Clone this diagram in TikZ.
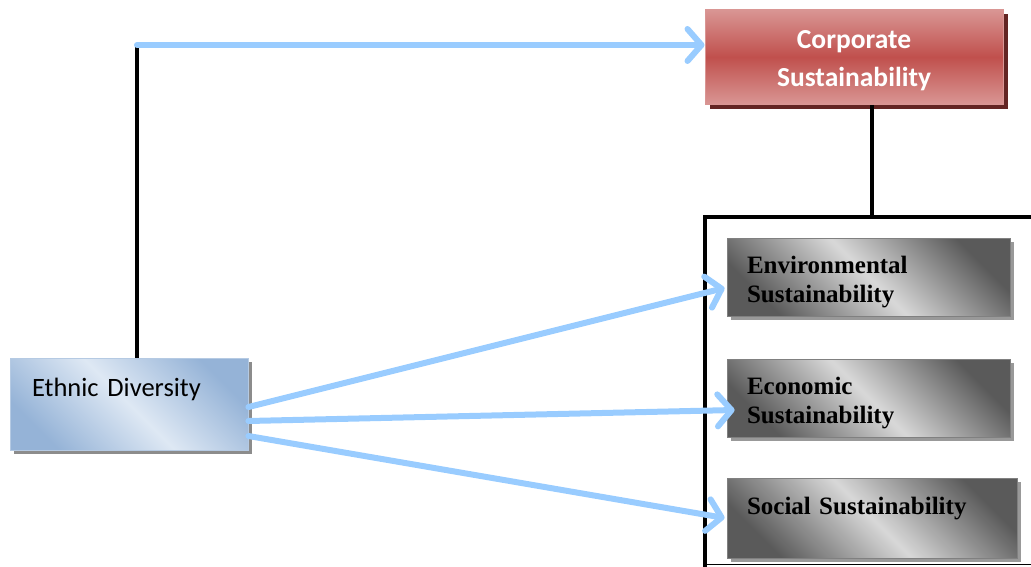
\documentclass[tikz,border=0pt]{standalone}
\usepackage{fontspec}
\setmainfont{Liberation Serif}
\newfontfamily\calfont{Carlito}
\usetikzlibrary{arrows.meta,positioning,calc,shadows}
\definecolor{arrowblue}{RGB}{153,204,255}
\definecolor{redlight}{RGB}{217,150,148}
\definecolor{redmid}{RGB}{192,80,77}
\definecolor{redshadow}{RGB}{99,37,35}
\definecolor{bluelight}{RGB}{222,232,244}
\definecolor{bluedark}{RGB}{149,179,215}
\definecolor{greydark}{RGB}{90,90,90}
\definecolor{greylight}{RGB}{216,216,216}

\begin{document}
\begin{tikzpicture}[x=1pt,y=-1pt,
  redbox/.style={draw=redlight, line width=1pt, top color=redlight, bottom color=redlight, middle color=redmid,
    minimum width=298pt, inner ysep=0pt, text height=77pt, text depth=18pt, align=center, text=white,
    font=\calfont\bfseries\fontsize{27.5}{38}\selectfont,
    drop shadow={shadow xshift=5pt, shadow yshift=-5pt, fill=redshadow, opacity=1}},
  greybox/.style={draw=gray, line width=0.8pt, top color=greydark, bottom color=greydark, middle color=greylight,
    shading angle=-45, text width=243pt, inner xsep=20pt, inner ysep=0pt, text height=35pt, text depth=43pt, align=left,
    font=\bfseries\fontsize{25}{29}\selectfont,
    drop shadow={shadow xshift=4pt, shadow yshift=-4pt, fill=gray!80, opacity=1}},
  bluebox/.style={draw=bluedark!70, line width=0.8pt, top color=bluedark, bottom color=bluedark, middle color=bluelight,
    shading angle=-45, text width=194pt, inner xsep=22pt, inner ysep=0pt, text height=38pt, text depth=54pt, align=left,
    font=\calfont\fontsize{26.5}{29}\selectfont,
    drop shadow={shadow xshift=4pt, shadow yshift=-4pt, fill=gray!90, opacity=1}},
  blackline/.style={line width=4pt},
  bluearrow/.style={arrowblue, line width=6pt, line cap=round, -{Straight Barb[length=14pt, width=32pt, round]}}
]
\useasboundingbox (0,0) rectangle (1031,567);

\node[redbox] (corp) at (854,57) {Corporate\\Sustainability};
\node[greybox] (env) at (868.5,277) {Environmental\\Sustainability};
\node[greybox] (eco) at (868.5,398) {Economic\\Sustainability};
\node[greybox, text width=250pt, text height=36pt, text depth=44pt] (soc) at (872,518) {Social Sustainability};
\node[bluebox] (eth) at (129,404) {Ethnic Diversity};

% frame round the three dimensions
\coordinate (frametop) at (872,217);
\draw[blackline] (1040,217) -| (705,575);
\draw (705,564) -- (1040,564);
\draw[blackline] (corp.south -| frametop) -- (frametop);

\coordinate (turn) at (137,45);
\draw[blackline] (eth.north -| turn) -- (turn);
\draw[bluearrow] (turn) -- (corp.west |- turn);

\draw[bluearrow] ($(eth.east)+(0,3)$) -- ($(env.west)+(-2,11)$);
\draw[bluearrow] ($(eth.east)+(0,17)$) -- ($(eco.west)+(8,12)$);
\draw[bluearrow] ($(eth.east)+(0,32)$) -- ($(soc.west)+(-2,0)$);
\end{tikzpicture}
\end{document}
